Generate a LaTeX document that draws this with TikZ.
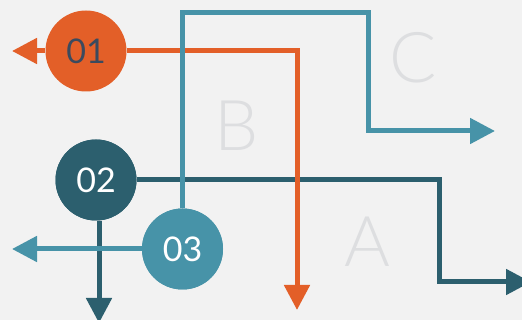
\documentclass[tikz,border=0pt]{standalone}
\usepackage{fontspec}
\setmainfont{Lato}
\newfontfamily\lightfont{Lato}[UprightFont=* Light]
\usetikzlibrary{arrows.meta}
\definecolor{bgcol}{HTML}{F2F2F2}
\definecolor{orangec}{HTML}{E35F28}
\definecolor{tealc}{HTML}{4793A8}
\definecolor{darktealc}{HTML}{2C5F6E}
\definecolor{slatec}{HTML}{3B4A5E}
\definecolor{lettercol}{HTML}{DDDEE0}
\tikzset{
  flow/.style={line width=5pt, -{Triangle[length=25pt,width=25pt]}},
  disc/.style={circle, minimum size=81pt, inner sep=0pt, fill=#1, font=\fontsize{34}{34}\selectfont},
  bigletter/.style={text=lettercol, font=\lightfont\fontsize{70}{70}\selectfont, inner sep=0pt}
}
\begin{document}
\begin{tikzpicture}[x=1pt, y=-1pt]
  \useasboundingbox[fill=bgcol] (0,0) rectangle (522,320);

  % region letters
  \node[bigletter] (la) at (367.5,242) {A};
  \node[bigletter] (lb) at (237,125.5) {B};
  \node[bigletter] (lc) at (413,57.5) {C};

  % circle positions
  \coordinate (p1) at (86,51);
  \coordinate (p2) at (96,180);
  \coordinate (p3) at (182.5,249);

  % arrow end points
  \coordinate (e1l) at (12,51);
  \coordinate (e1d) at (297,310);
  \coordinate (e2r) at (531,282);
  \coordinate (e2d) at (99,323);
  \coordinate (e3l) at (12,249);
  \coordinate (e3r) at (495,131);

  \node[disc=darktealc, text=white] (c2) at (p2) {02};
  \node[disc=orangec, text=slatec] (c1) at (p1) {01};
  \node[disc=tealc, text=white] (c3) at (p3) {03};

  % dark teal connectors
  \draw[flow, darktealc] (c2.east) -- (439,180) -- (439,282) -- (e2r);
  \draw[flow, darktealc] (c2.south -| e2d) -- (e2d);

  % orange connectors
  \draw[flow, orangec] (c1.west) -- (e1l);
  \draw[flow, orangec] (c1.east) -- (297,51) -- (e1d);

  % light teal connectors
  \draw[flow, tealc] (c3.west) -- (e3l);
  \draw[flow, tealc] (c3.north) -- (182.5,13) -- (368,13) -- (368,131) -- (e3r);

  % circles drawn again above the crossing lines
  \node[disc=darktealc, text=white] at (p2) {02};
  \node[disc=tealc, text=white] at (p3) {03};
\end{tikzpicture}
\end{document}
